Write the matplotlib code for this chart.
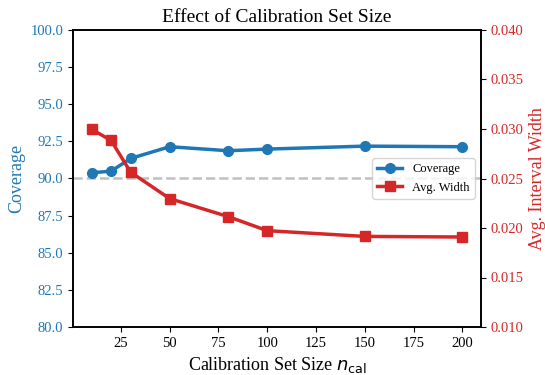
import matplotlib
matplotlib.use("Agg")
import matplotlib.pyplot as plt

plt.rcParams['font.family'] = ['Liberation Serif', 'DejaVu Serif']
plt.rcParams['mathtext.fontset'] = 'dejavusans'

n_cal = [10, 20, 30, 50, 80, 100, 150, 200]
coverage = [90.39, 90.49, 91.35, 92.14, 91.87, 91.98, 92.18, 92.14]
avg_width = [0.02997, 0.02885, 0.02564, 0.02297, 0.02115, 0.01973, 0.01915, 0.01909]
target = 90.0

blue = '#1f77b4'
red = '#d62728'

fig = plt.figure(figsize=(5.45, 3.75), dpi=100)
ax = fig.add_axes([73/545, 1-327/375, (481-73)/545, (327-30)/375])
ax2 = ax.twinx()

ax.axhline(target, color='#c0c0c0', linestyle='--', linewidth=1.8, zorder=1)
l1, = ax.plot(n_cal, coverage, color=blue, marker='o', markersize=7, linewidth=2.5, label='Coverage', zorder=3)
l2, = ax2.plot(n_cal, avg_width, color=red, marker='s', markersize=7, linewidth=2.5, label='Avg. Width', zorder=3)

ax.set_ylim(80, 100)
ax2.set_ylim(0.010, 0.040)
yt = [80, 82.5, 85, 87.5, 90, 92.5, 95, 97.5, 100]
ax.set_yticks(yt)
ax.set_yticklabels([f'{v:.1f}' for v in yt])
yt2 = [0.010, 0.015, 0.020, 0.025, 0.030, 0.035, 0.040]
ax2.set_yticks(yt2)
ax2.set_yticklabels([f'{v:.3f}' for v in yt2])

ax.tick_params(axis='y', colors=blue, labelsize=10.5)
ax.tick_params(axis='x', labelsize=10.5)
ax2.tick_params(axis='y', colors=red, labelsize=10.5)
for a in (ax, ax2):
    a.tick_params(axis='y', color='black')
    for s in a.spines.values():
        s.set_linewidth(1.2)

ax.set_xlabel(r'Calibration Set Size $n_{\mathrm{cal}}$', fontsize=13)
ax.set_ylabel('Coverage', color=blue, fontsize=13)
ax2.set_ylabel('Avg. Interval Width', color=red, fontsize=13)
ax.set_title('Effect of Calibration Set Size', fontsize=14)

ax.legend([l1, l2], ['Coverage', 'Avg. Width'], loc='center right', fontsize=9)

fig.savefig('out.png', dpi=100)
